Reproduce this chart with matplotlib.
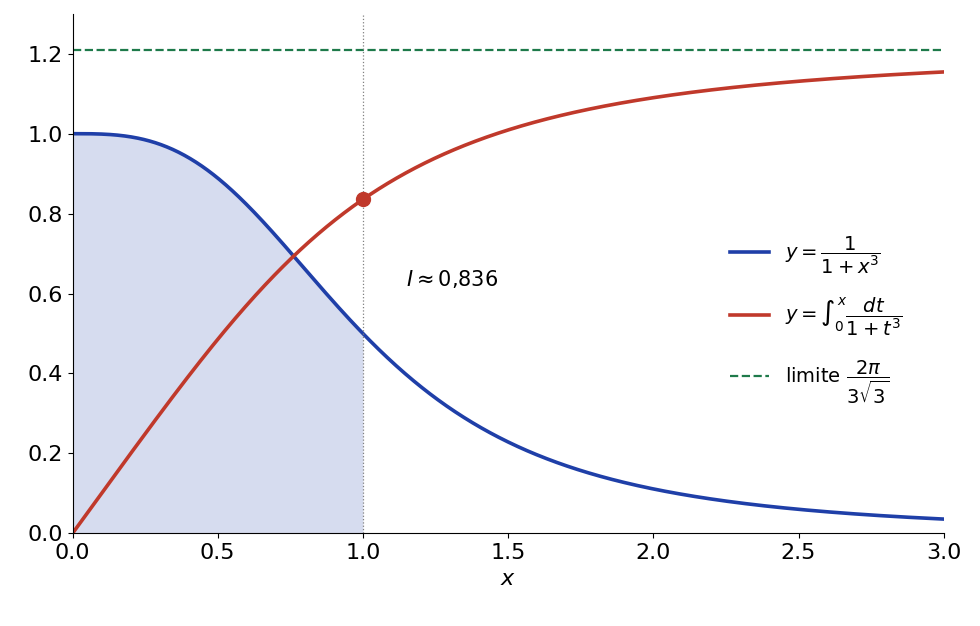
import numpy as np
import matplotlib.pyplot as plt

x_min, x_max = 0.0, 3.0
upper = 1.0
limit = 2 * np.pi / (3 * np.sqrt(3))
xticks = [0.0, 0.5, 1.0, 1.5, 2.0, 2.5, 3.0]
yticks = [0.0, 0.2, 0.4, 0.6, 0.8, 1.0, 1.2]

x = np.linspace(x_min, x_max, 1201)
f = 1 / (1 + x**3)
F = np.concatenate([[0], np.cumsum((f[1:] + f[:-1]) / 2 * np.diff(x))])
I = np.interp(upper, x, F)

plt.rcParams['font.size'] = 16
fig, ax = plt.subplots(figsize=(9.8, 6.26), dpi=100)
fig.subplots_adjust(left=0.074, right=0.963, top=0.978, bottom=0.148)

blue, red, green = '#1f3fa8', '#c0392b', '#1e7a4a'
m = x <= upper
ax.fill_between(x[m], 0, f[m], color=blue, alpha=0.18, lw=0)
ax.plot(x, f, color=blue, lw=2.6, label=r'$y=\dfrac{1}{1+x^3}$')
ax.plot(x, F, color=red, lw=2.6, label=r'$y=\int_0^x \dfrac{dt}{1+t^3}$')
ax.axhline(limit, color=green, ls='--', lw=1.6, label=r'limite $\dfrac{2\pi}{3\sqrt{3}}$')
ax.axvline(upper, color='gray', ls=':', lw=0.9)
ax.plot([upper], [I], 'o', color=red, ms=10)
ax.text(1.15, 0.62, r'$I \approx 0{,}836$', fontsize=15)

ax.set_xlim(x_min, x_max)
ax.set_ylim(0, 1.3)
ax.set_xticks(xticks)
ax.set_yticks(yticks)
ax.set_xlabel(r'$x$')
ax.spines['top'].set_visible(False)
ax.spines['right'].set_visible(False)
ax.legend(loc='center left', frameon=False, fontsize=14, labelspacing=1.0,
          bbox_to_anchor=(0.735, 0.41))

fig.savefig('out.png')
